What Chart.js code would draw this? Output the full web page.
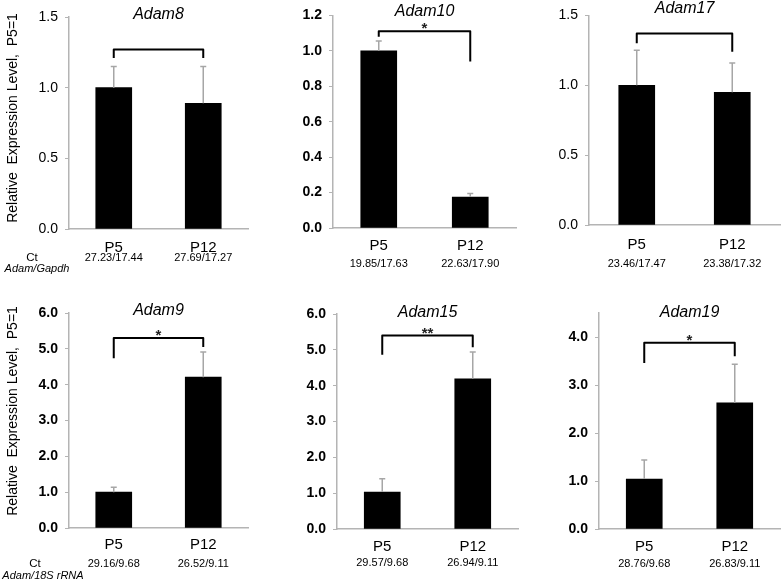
<!DOCTYPE html>
<html lang="en">
<head>
    <meta charset="UTF-8">
    <title>Adam expression, P5 vs P12</title>
    <script src="https://cdn.jsdelivr.net/npm/chart.js"></script>
    <style>
        body {
            margin: 0;
            width: 782px;
            height: 583px;
            overflow: hidden;
            position: relative;
            background: #fff;
        }
        canvas { position: absolute; }
    </style>
</head>
<body>
    <script>
        // values
        const genes = ['Adam8', 'Adam10', 'Adam17', 'Adam9', 'Adam15', 'Adam19'];
        const categories = ['P5', 'P12'];
        const means = [[1.0, 0.89], [1.0, 0.175], [1.0, 0.95], [1.0, 4.21], [1.03, 4.19], [1.04, 2.63]];
        const errors = [[0.15, 0.26], [0.055, 0.02], [0.25, 0.21], [0.14, 0.70], [0.37, 0.75], [0.40, 0.80]];
        const ctValues = [
            ['27.23/17.44', '27.69/17.27'],
            ['19.85/17.63', '22.63/17.90'],
            ['23.46/17.47', '23.38/17.32'],
            ['29.16/9.68', '26.52/9.11'],
            ['29.57/9.68', '26.94/9.11'],
            ['28.76/9.68', '26.83/9.11']
        ];
        const yMax = [1.5, 1.2, 1.5, 6, 6, 4.5];
        const yStep = [0.5, 0.2, 0.5, 1, 1, 1];
        const sigLabels = ['', '*', '', '*', '**', '*'];
        const bracketTop = [1.27, 1.11, 1.37, 5.30, 5.40, 3.88];
        const bracketLeftEnd = [1.21, 1.08, 1.30, 4.74, 4.86, 3.46];
        const bracketRightEnd = [1.21, 0.94, 1.24, 5.05, 5.07, 3.60];
        const rowNorm = ['Adam/Gapdh', 'Adam/18S rRNA'];
        const yTitle = 'Relative  Expression Level,  P5=1';

        // panel placement (pixels)
        const layout = [
            { left: 0,   top: 0,   w: 260, h: 290, axisW: 69, padT: 17, padR: 12, xH: 61, xPad: 10,  ctOff: 29,   titleY: 15,   bold: false },
            { left: 260, top: 0,   w: 260, h: 290, axisW: 73, padT: 15, padR: 4,  xH: 62, xPad: 9,   ctOff: 35.6, titleY: 11.7, bold: true },
            { left: 520, top: 0,   w: 262, h: 290, axisW: 69, padT: 9,  padR: 2,  xH: 65, xPad: 10.7, ctOff: 38.7, titleY: 8.3,  bold: false },
            { left: 0,   top: 290, w: 260, h: 293, axisW: 69, padT: 23, padR: 12, xH: 55, xPad: 7.7, ctOff: 36,   titleY: 21,   bold: true },
            { left: 260, top: 290, w: 260, h: 293, axisW: 77, padT: 24, padR: 2,  xH: 54, xPad: 8.4, ctOff: 34,   titleY: 22.7, bold: true },
            { left: 520, top: 290, w: 262, h: 293, axisW: 79, padT: 23, padR: 2,  xH: 54, xPad: 9.3, ctOff: 35.3, titleY: 22.7, bold: true }
        ];

        const FONT = '"Liberation Sans", Arial, sans-serif';
        const AXIS_GRAY = '#b4b4b4';

        const extras = {
            id: 'extras',
            afterDatasetsDraw(chart, args, opts) {
                const i = opts.index;
                const lay = layout[i];
                const { ctx, chartArea } = chart;
                const xs = chart.scales.x, ys = chart.scales.y;
                ctx.save();

                // error bars (upper only)
                ctx.strokeStyle = '#a6a6a6';
                ctx.lineWidth = 1.5;
                means[i].forEach((m, j) => {
                    const px = xs.getPixelForValue(j);
                    const y0 = ys.getPixelForValue(m);
                    const y1 = ys.getPixelForValue(m + errors[i][j]);
                    ctx.beginPath();
                    ctx.moveTo(px, y0);
                    ctx.lineTo(px, y1);
                    ctx.moveTo(px - 3, y1);
                    ctx.lineTo(px + 3, y1);
                    ctx.stroke();
                });

                // significance bracket
                const xl = xs.getPixelForValue(0), xr = xs.getPixelForValue(1);
                const yt = ys.getPixelForValue(bracketTop[i]);
                ctx.strokeStyle = '#000';
                ctx.lineWidth = 2;
                ctx.lineJoin = 'round';
                ctx.beginPath();
                ctx.moveTo(xl, ys.getPixelForValue(bracketLeftEnd[i]));
                ctx.lineTo(xl, yt);
                ctx.lineTo(xr, yt);
                ctx.lineTo(xr, ys.getPixelForValue(bracketRightEnd[i]));
                ctx.stroke();

                ctx.fillStyle = '#222';
                ctx.textAlign = 'center';
                if (sigLabels[i]) {
                    ctx.font = 'bold 15px ' + FONT;
                    ctx.textBaseline = 'alphabetic';
                    ctx.fillText(sigLabels[i], (xl + xr) / 2, yt + 2);
                }

                // gene title
                ctx.fillStyle = '#000';
                ctx.font = 'italic 16px ' + FONT;
                ctx.textBaseline = 'middle';
                ctx.fillText(genes[i], (chartArea.left + chartArea.right) / 2, lay.titleY);

                // Ct values under the categories
                ctx.font = '11px ' + FONT;
                ctValues[i].forEach((t, j) => {
                    ctx.fillText(t, xs.getPixelForValue(j), chartArea.bottom + lay.ctOff);
                });

                // row labels on the left column
                if (i === 0 || i === 3) {
                    const row = i === 0 ? 0 : 1;
                    const cy = chartArea.bottom + lay.ctOff;
                    ctx.font = '11.5px ' + FONT;
                    ctx.fillText('Ct', row === 0 ? 32 : 35, cy);
                    ctx.font = 'italic 11px ' + FONT;
                    ctx.fillText(rowNorm[row], row === 0 ? 37 : 43, cy + (row === 0 ? 10.5 : 11.5));

                    ctx.save();
                    ctx.font = '14px ' + FONT;
                    ctx.translate(13, row === 0 ? 118 : 121);
                    ctx.rotate(-Math.PI / 2);
                    ctx.fillText(yTitle, 0, 0);
                    ctx.restore();
                }
                ctx.restore();
            }
        };

        genes.forEach((g, i) => {
            const lay = layout[i];
            const canvas = document.createElement('canvas');
            canvas.width = lay.w;
            canvas.height = lay.h;
            canvas.style.left = lay.left + 'px';
            canvas.style.top = lay.top + 'px';
            document.body.appendChild(canvas);

            new Chart(canvas.getContext('2d'), {
                type: 'bar',
                data: {
                    labels: categories,
                    datasets: [{
                        data: means[i],
                        backgroundColor: '#000',
                        borderWidth: 0,
                        barThickness: 36
                    }]
                },
                options: {
                    responsive: false,
                    animation: false,
                    layout: { padding: { top: lay.padT, right: lay.padR, left: 0, bottom: 0 } },
                    plugins: {
                        legend: { display: false },
                        tooltip: { enabled: false },
                        extras: { index: i }
                    },
                    scales: {
                        x: {
                            grid: { display: false, drawTicks: false },
                            border: { display: true, color: AXIS_GRAY, width: 1.5 },
                            ticks: {
                                color: '#000',
                                padding: lay.xPad,
                                font: { family: FONT, size: 15 }
                            },
                            afterFit: (scale) => { scale.height = lay.xH; }
                        },
                        y: {
                            min: 0,
                            max: yMax[i],
                            grid: { display: true, drawOnChartArea: false, drawTicks: true, tickLength: 4, color: AXIS_GRAY },
                            border: { display: true, color: AXIS_GRAY, width: 1.5 },
                            ticks: {
                                stepSize: yStep[i],
                                includeBounds: false,
                                color: '#000',
                                padding: 7,
                                font: { family: FONT, size: 14, weight: lay.bold ? 'bold' : 'normal' },
                                callback: (v) => Number(v).toFixed(1)
                            },
                            afterFit: (scale) => { scale.width = lay.axisW; }
                        }
                    }
                },
                plugins: [extras]
            });
        });
    </script>
</body>
</html>
